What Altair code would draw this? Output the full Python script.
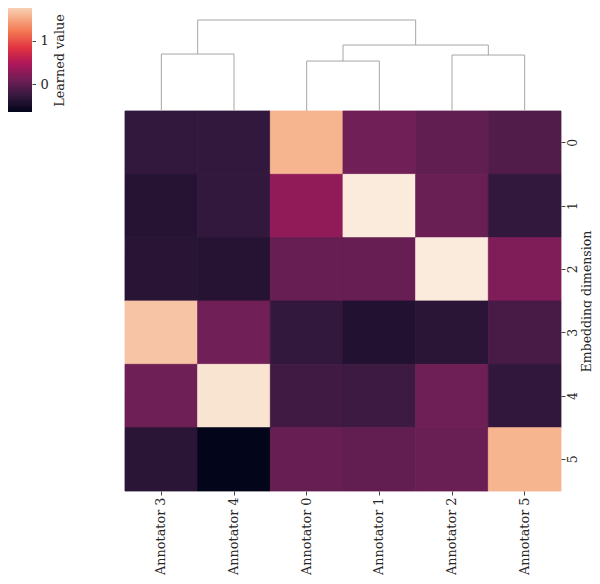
import altair as alt
import pandas as pd

# ---------------- data ----------------
columns = ["Annotator 3", "Annotator 4", "Annotator 0", "Annotator 1", "Annotator 2", "Annotator 5"]
rows = ["0", "1", "2", "3", "4", "5"]

row_0 = [-0.29, -0.29, 1.58, 0.10, 0.00, -0.10]
row_1 = [-0.39, -0.29, 0.29, 1.95, 0.05, -0.30]
row_2 = [-0.37, -0.39, 0.03, 0.03, 1.95, 0.18]
row_3 = [1.69, 0.10, -0.29, -0.42, -0.36, -0.16]
row_4 = [0.08, 1.90, -0.21, -0.23, 0.08, -0.31]
row_5 = [-0.36, -0.65, 0.03, 0.01, 0.05, 1.58]
matrix = [row_0, row_1, row_2, row_3, row_4, row_5]

# dendrogram linkage over column display positions (0..5); new clusters get ids 6, 7, ...
merge_a = [2, 4, 0, 6, 8]
merge_b = [3, 5, 1, 7, 9]
merge_h = [0.549, 0.615, 0.626, 0.725, 1.0]

colorbar_ticks = [0, 1]
rocket = ["#03051A", "#35193e", "#701f57", "#ad1759", "#e13342", "#f37651", "#f6b48f", "#FAEBDD"]

# ---------------- tables ----------------
heat_df = pd.DataFrame(
    [{"row": r, "col": c, "value": matrix[i][j]} for i, r in enumerate(rows) for j, c in enumerate(columns)]
)
vmin = min(min(r) for r in matrix)
vmax = max(max(r) for r in matrix)

centers = {i: i + 0.5 for i in range(len(columns))}
heights = {i: 0.0 for i in range(len(columns))}
segs = []
for k, (a, b, h) in enumerate(zip(merge_a, merge_b, merge_h)):
    cid = len(columns) + k
    segs.append({"x": centers[a], "x2": centers[a], "y": heights[a], "y2": h})
    segs.append({"x": centers[b], "x2": centers[b], "y": heights[b], "y2": h})
    segs.append({"x": centers[a], "x2": centers[b], "y": h, "y2": h})
    centers[cid] = (centers[a] + centers[b]) / 2
    heights[cid] = h
dendro_df = pd.DataFrame(segs)

n_steps = 80
step = (vmax - vmin) / n_steps
cbar_df = pd.DataFrame(
    [{"lo": vmin + i * step, "hi": vmin + (i + 1.6) * step, "value": vmin + (i + 0.5) * step} for i in range(n_steps)]
)

FONT = "DejaVu Serif"
TXT = "#262626"
TICK = "#444444"
FS = 13

color_scale = alt.Scale(domain=[vmin, vmax], range=rocket, interpolate="rgb")

heat = alt.Chart(heat_df).mark_rect(strokeWidth=0.8).encode(
    x=alt.X(
        "col:N",
        sort=columns,
        scale=alt.Scale(range=[117, 553], paddingInner=0, paddingOuter=0),
        axis=alt.Axis(
            title=None, orient="bottom", labelAngle=270, labelAlign="right", labelBaseline="middle",
            domain=False, ticks=True, tickSize=4, tickColor=TICK, labelPadding=2,
            labelFontSize=12.8, labelColor=TXT, labelFont=FONT,
        ),
    ),
    y=alt.Y(
        "row:N",
        sort=rows,
        scale=alt.Scale(range=[103, 483], paddingInner=0, paddingOuter=0),
        axis=alt.Axis(
            title="Embedding dimension", orient="right", labelAngle=270, labelAlign="center",
            labelBaseline="top", domain=False, tickSize=4, tickColor=TICK, labelPadding=1.5,
            labelFontSize=12.5, labelColor=TXT, labelFont=FONT,
            titleAngle=270, titleFont=FONT, titleFontSize=12.5, titleFontWeight="normal",
            titleColor=TXT, titleAlign="center", titleBaseline="middle", titleX=25, titleY=293,
        ),
    ),
    color=alt.Color("value:Q", scale=color_scale, legend=None),
    stroke=alt.Color("value:Q", scale=color_scale, legend=None),
)

dendro = alt.Chart(dendro_df).mark_rule(color="#a6a6a6", strokeWidth=1).encode(
    x=alt.X("x:Q", scale=alt.Scale(domain=[0, 6], range=[117, 553]), axis=None),
    x2="x2:Q",
    y=alt.Y("y:Q", scale=alt.Scale(domain=[0, 1.0], range=[103, 12]), axis=None),
    y2="y2:Q",
)

cbar = alt.Chart(cbar_df).mark_rect().encode(
    x=alt.value(-8),
    x2=alt.value(24),
    y=alt.Y(
        "lo:Q",
        scale=alt.Scale(domain=[vmin, vmax], range=[104, -8], nice=False, zero=False),
        axis=alt.Axis(
            title="Learned value", orient="right", offset=-529, values=colorbar_ticks,
            domain=False, grid=False, tickSize=3.5, tickColor=TICK, labelPadding=4.5,
            labelFontSize=FS, labelColor=TXT, labelFont=FONT, labelAngle=0,
            labelAlign="left", labelBaseline="middle",
            titleAngle=270, titleFont=FONT, titleFontSize=12.8, titleFontWeight="normal",
            titleColor=TXT, titleAlign="center", titleBaseline="middle", titleX=27, titleY=52,
        ),
    ),
    y2="hi:Q",
    color=alt.Color("value:Q", scale=color_scale, legend=None),
)

chart = (
    alt.layer(heat, dendro, cbar)
    .resolve_scale(x="independent", y="independent")
    .properties(
        width=553,
        height=483,
        autosize=alt.AutoSizeParams(type="none"),
        padding={"left": 0, "top": 0, "right": 31, "bottom": 85},
    )
    .configure_view(stroke=None)
)

chart.save("out.html", embed_options={"renderer": "svg", "actions": False})
